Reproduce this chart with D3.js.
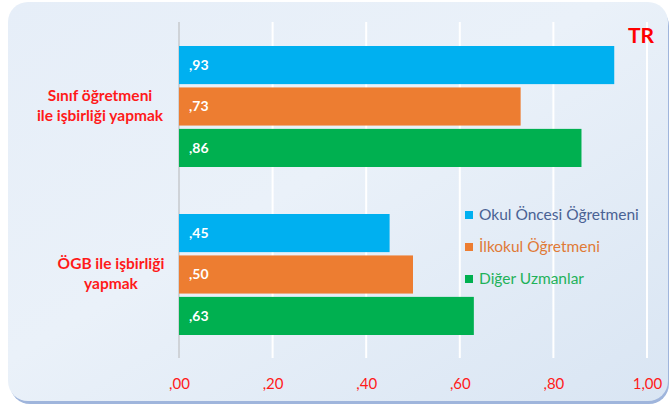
<!DOCTYPE html>
<html>
<head>
<meta charset="utf-8">
<script src="https://cdn.jsdelivr.net/npm/d3@7"></script>
<style>
  body { margin: 0; background: #fff; }
  text { font-family: Lato, "Open Sans", sans-serif; }
</style>
</head>
<body>
<div id="chart"></div>
<script>
var categories = ["Sınıf öğretmeni|ile işbirliği yapmak", "ÖGB ile işbirliği|yapmak"];
var seriesNames = ["Okul Öncesi Öğretmeni", "İlkokul Öğretmeni", "Diğer Uzmanlar"];
var okulOncesi = [0.93, 0.45];
var ilkokul = [0.73, 0.50];
var digerUzman = [0.86, 0.63];
var tickValues = [0, 0.2, 0.4, 0.6, 0.8, 1.0];
var tickLabels = [",00", ",20", ",40", ",60", ",80", "1,00"];
var valueLabels = [[",93", ",45"], [",73", ",50"], [",86", ",63"]];

var colors = ["#00b0f0", "#ed7d31", "#00b050"];
var legendText = ["#4a6294", "#e07a36", "#1fb25a"];

var W = 671, H = 406;
var margin = {top: 22, right: 24, bottom: 48, left: 179},
    width = 647 - margin.left,
    height = 358 - margin.top;

var svg = d3.select("#chart")
    .append("svg")
        .attr("width", W)
        .attr("height", H);

var defs = svg.append("defs");
var grad = defs.append("linearGradient")
    .attr("id", "bg")
    .attr("x1", "0").attr("y1", "0").attr("x2", "1").attr("y2", "1");
grad.append("stop").attr("offset", "0%").attr("stop-color", "#e6eef8");
grad.append("stop").attr("offset", "45%").attr("stop-color", "#eaf1f9");
grad.append("stop").attr("offset", "100%").attr("stop-color", "#d9e5f3");

// panel with shadow
svg.append("rect")
    .attr("x", 10).attr("y", 6)
    .attr("width", 659).attr("height", 398)
    .attr("rx", 20)
    .attr("fill", "#9fb5dc");
svg.append("rect")
    .attr("x", 8).attr("y", 2)
    .attr("width", 660).attr("height", 399)
    .attr("rx", 20)
    .attr("fill", "url(#bg)");

var g = svg.append("g")
    .attr("transform", "translate(" + margin.left + "," + margin.top + ")");

var x = d3.scaleLinear()
    .domain([0, 1])
    .range([0, width]);

var y0 = d3.scaleBand()
    .domain(categories)
    .range([0, height]);

var y1 = d3.scaleBand()
    .domain(seriesNames)
    .range([24, y0.bandwidth() - 23])
    .paddingInner(0.08);

// gridlines
g.selectAll(".grid")
    .data(tickValues)
  .enter().append("line")
    .attr("class", "grid")
    .attr("x1", function(d) { return x(d); })
    .attr("x2", function(d) { return x(d); })
    .attr("y1", 0)
    .attr("y2", height)
    .attr("stroke", function(d) { return d === 0 ? "#cfd3d8" : "#ffffff"; })
    .attr("stroke-width", 2);

// x axis labels
var xAxis = g.append("g")
    .attr("class", "x-axis")
    .attr("transform", "translate(0," + (height + 17) + ")")
    .call(d3.axisBottom(x).tickValues(tickValues)
        .tickSize(0)
        .tickFormat(function(d, i) { return tickLabels[i]; }));
xAxis.select(".domain").remove();
xAxis.selectAll("text")
    .attr("fill", "#ff1a1a")
    .style("font-size", "15px")
    .style("font-family", "Lato, sans-serif");

var allSeries = [okulOncesi, ilkokul, digerUzman];

var groups = g.selectAll(".cat")
    .data(categories)
  .enter().append("g")
    .attr("class", "cat")
    .attr("transform", function(d) { return "translate(0," + y0(d) + ")"; });

groups.each(function(cat, ci) {
    var grp = d3.select(this);
    seriesNames.forEach(function(s, si) {
        var v = allSeries[si][ci];
        grp.append("rect")
            .attr("x", x(0))
            .attr("y", y1(s))
            .attr("width", x(v) - x(0))
            .attr("height", y1.bandwidth())
            .attr("fill", colors[si]);
        grp.append("text")
            .attr("x", x(0) + 10)
            .attr("y", y1(s) + y1.bandwidth() / 2)
            .attr("dy", "0.35em")
            .attr("fill", "#fff")
            .style("font-size", "14px")
            .style("font-weight", "bold")
            .text(valueLabels[si][ci]);
    });
});

// category labels
var labelX = [100, 111];
categories.forEach(function(c, ci) {
    var lines = c.split("|");
    var cy = margin.top + y0(c) + y0.bandwidth() / 2;
    var t = svg.append("text")
        .attr("text-anchor", "middle")
        .attr("fill", "#ff1a1a")
        .style("font-size", "15.5px")
        .style("font-weight", "bold");
    lines.forEach(function(l, li) {
        t.append("tspan")
            .attr("x", labelX[ci])
            .attr("y", cy + (li - (lines.length - 1) / 2) * 20)
            .attr("dy", "0.35em")
            .text(l);
    });
});

// legend
var legend = svg.append("g")
    .attr("transform", "translate(465,215)");
seriesNames.forEach(function(s, i) {
    legend.append("rect")
        .attr("x", 0)
        .attr("y", i * 32 - 4)
        .attr("width", 8)
        .attr("height", 8)
        .attr("fill", colors[i]);
    legend.append("text")
        .attr("x", 14)
        .attr("y", i * 32)
        .attr("dy", "0.35em")
        .attr("fill", legendText[i])
        .style("font-size", "15.5px")
        .text(s);
});

// TR label
svg.append("text")
    .attr("x", 641)
    .attr("y", 43)
    .attr("text-anchor", "middle")
    .attr("fill", "#ff0000")
    .style("font-size", "21px")
    .style("font-weight", "bold")
    .text("TR");
</script>
</body>
</html>
